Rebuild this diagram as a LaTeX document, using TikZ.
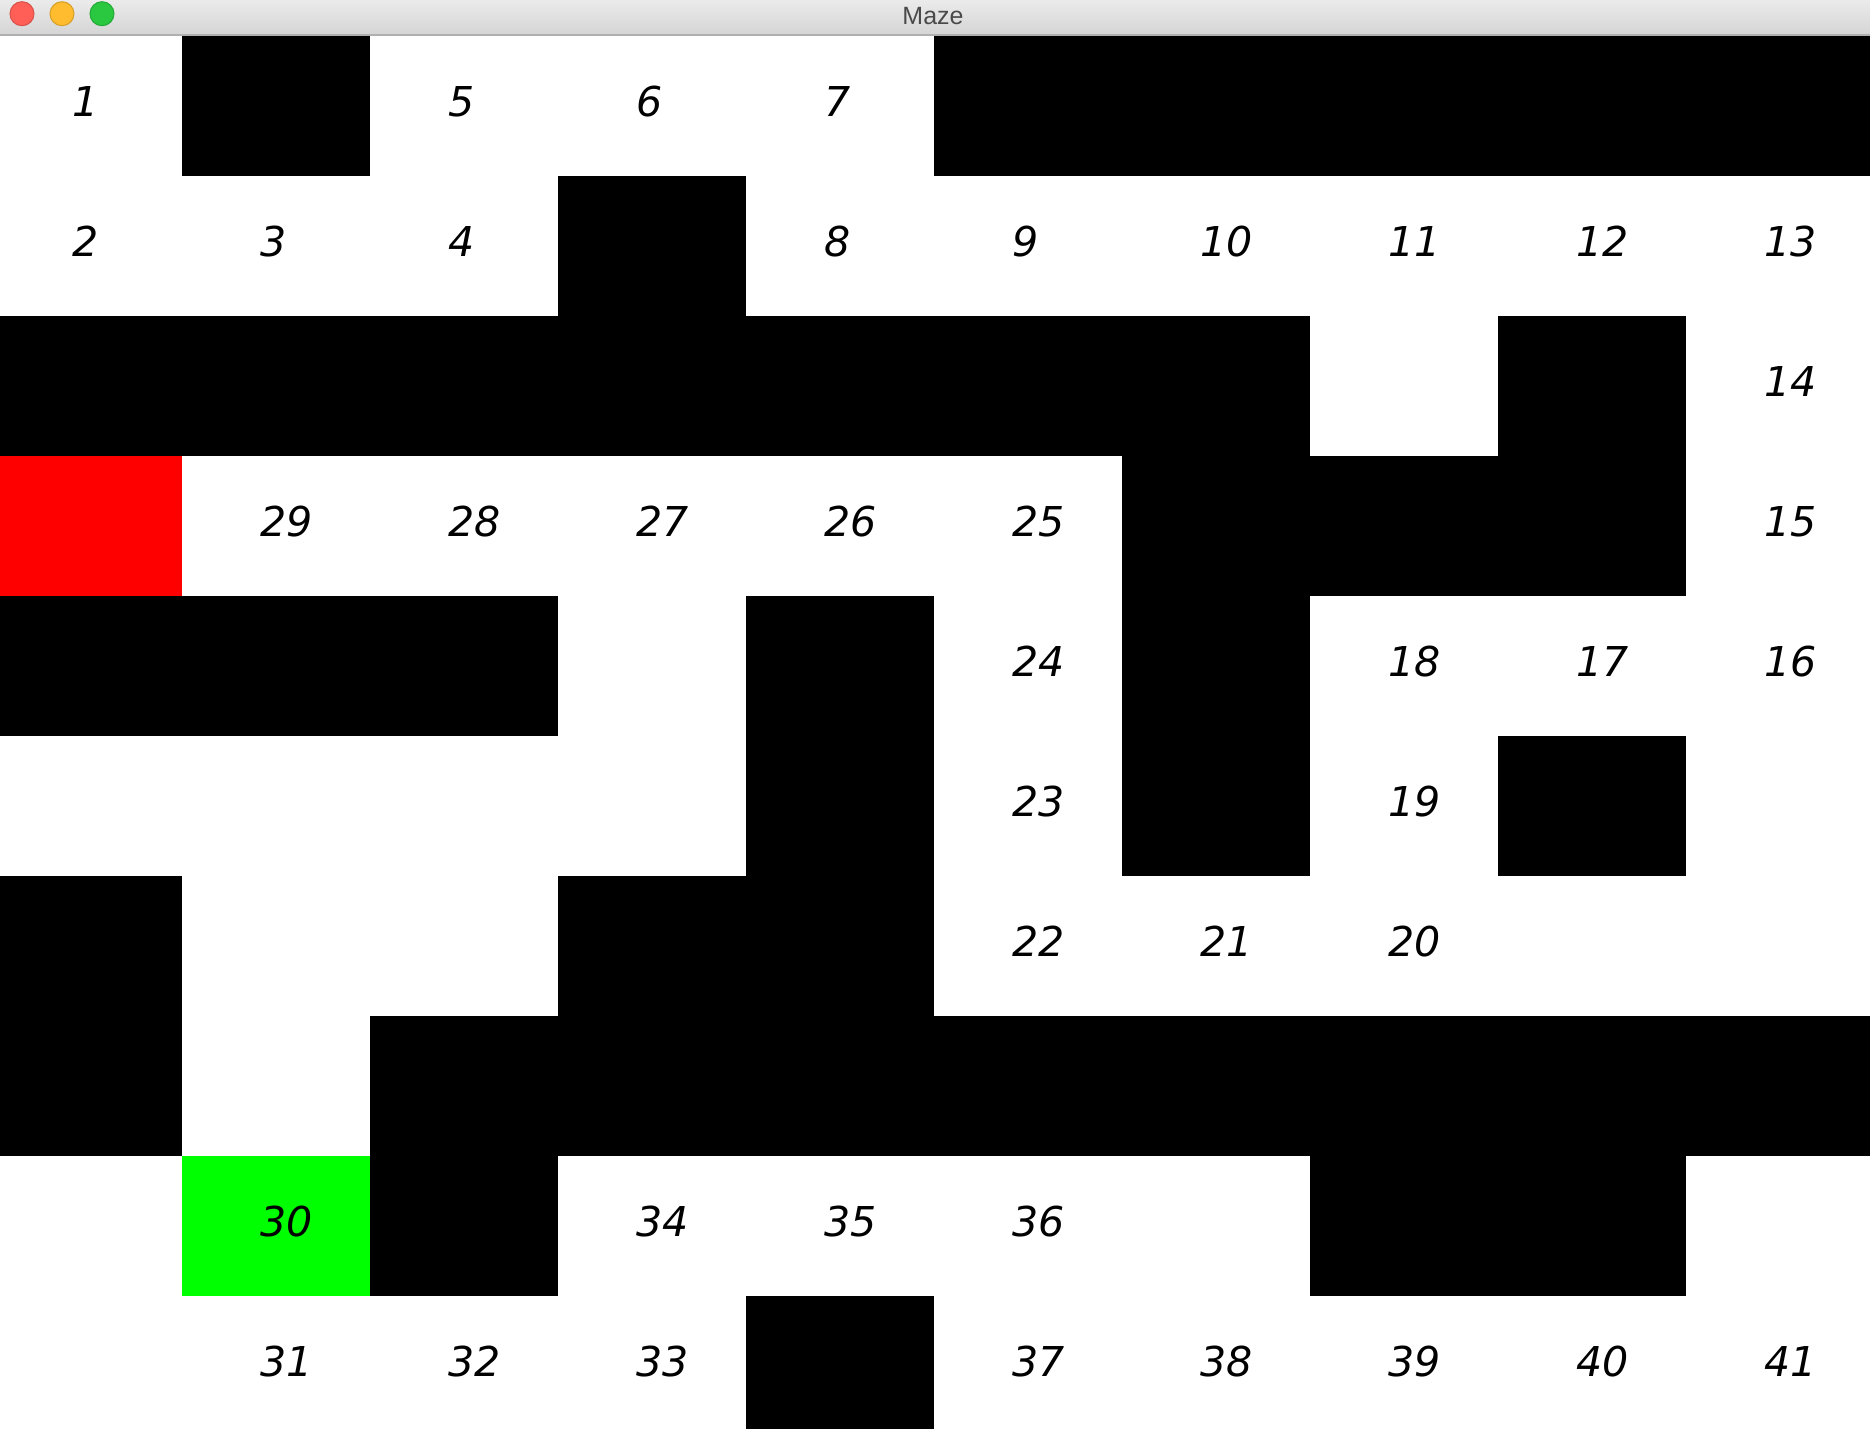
\documentclass[tikz,border=0pt]{standalone}
\usepackage{fontspec}
\newfontfamily\cellfont{DejaVu Sans}
\newfontfamily\barfont{Liberation Sans}
\definecolor{barTop}{HTML}{EBEBEB}
\definecolor{barBottom}{HTML}{D4D4D4}
\definecolor{barLine}{HTML}{B0B0B0}
\definecolor{titleGray}{HTML}{4A4A4A}
\definecolor{closeRed}{HTML}{FF5F57}
\definecolor{minYellow}{HTML}{FEBC2E}
\definecolor{zoomGreen}{HTML}{2AC840}
\definecolor{startRed}{HTML}{FF0000}
\definecolor{goalGreen}{HTML}{00FF00}
\tikzset{
  cell/.style={anchor=base west, inner sep=0pt, font=\cellfont\itshape\fontsize{11.7}{12}\selectfont},
  wall/.style={fill=black},
  light/.style={circle, minimum size=0.24cm, inner sep=0pt, line width=0.3pt}
}

\begin{document}
\begin{tikzpicture}
\useasboundingbox (0,0) rectangle (18.7,-14.28);
\fill[white] (0,0) rectangle (18.7,-14.28);
% window bar
\shade[top color=barTop, bottom color=barBottom] (0,0) rectangle (18.7,-0.355);
\draw[barLine, line width=0.4pt] (0,-0.35) -- (18.7,-0.35);
\node[light, fill=closeRed, draw=closeRed!85!black] (close) at (0.22,-0.137) {};
\node[light, fill=minYellow, draw=minYellow!85!black] (minimise) at (0.62,-0.137) {};
\node[light, fill=zoomGreen, draw=zoomGreen!85!black] (zoom) at (1.02,-0.137) {};
\node[anchor=base, inner sep=0pt, text=titleGray, font=\barfont\fontsize{7.1}{8}\selectfont] (title) at (9.33,-0.245) {Maze};

\begin{scope}[shift={(-0.06,-0.36)}, x=1.88cm, y=-1.4cm]
% walls
\fill[wall] (1,0) rectangle (2,1);
\fill[wall] (5,0) rectangle (10,1);
\fill[wall] (3,1) rectangle (4,2);
\fill[wall] (0,2) rectangle (7,3);
\fill[wall] (8,2) rectangle (9,4);
\fill[wall] (6,3) rectangle (8,4);
\fill[wall] (6,3) rectangle (7,6);
\fill[wall] (0,4) rectangle (3,5);
\fill[wall] (4,4) rectangle (5,8);
\fill[wall] (8,5) rectangle (9,6);
\fill[wall] (0,6) rectangle (1,8);
\fill[wall] (3,6) rectangle (4,7);
\fill[wall] (2,7) rectangle (10,8);
\fill[wall] (2,8) rectangle (3,9);
\fill[wall] (7,8) rectangle (9,9);
\fill[wall] (4,9) rectangle (5,10);
% start and goal
\fill[startRed] (0,3) rectangle (1,4);
\fill[goalGreen] (1,8) rectangle (2,9);

% cell numbers
\node[cell] (c1) at (0.413,0.575) {1};
\node[cell] (c5) at (2.413,0.575) {5};
\node[cell] (c6) at (3.413,0.575) {6};
\node[cell] (c7) at (4.413,0.575) {7};
\node[cell] (c2) at (0.413,1.575) {2};
\node[cell] (c3) at (1.413,1.575) {3};
\node[cell] (c4) at (2.413,1.575) {4};
\node[cell] (c8) at (4.413,1.575) {8};
\node[cell] (c9) at (5.413,1.575) {9};
\node[cell] (c10) at (6.413,1.575) {10};
\node[cell] (c11) at (7.413,1.575) {11};
\node[cell] (c12) at (8.413,1.575) {12};
\node[cell] (c13) at (9.413,1.575) {13};
\node[cell] (c14) at (9.413,2.575) {14};
\node[cell] (c29) at (1.413,3.575) {29};
\node[cell] (c28) at (2.413,3.575) {28};
\node[cell] (c27) at (3.413,3.575) {27};
\node[cell] (c26) at (4.413,3.575) {26};
\node[cell] (c25) at (5.413,3.575) {25};
\node[cell] (c15) at (9.413,3.575) {15};
\node[cell] (c24) at (5.413,4.575) {24};
\node[cell] (c18) at (7.413,4.575) {18};
\node[cell] (c17) at (8.413,4.575) {17};
\node[cell] (c16) at (9.413,4.575) {16};
\node[cell] (c23) at (5.413,5.575) {23};
\node[cell] (c19) at (7.413,5.575) {19};
\node[cell] (c22) at (5.413,6.575) {22};
\node[cell] (c21) at (6.413,6.575) {21};
\node[cell] (c20) at (7.413,6.575) {20};
\node[cell] (c30) at (1.413,8.575) {30};
\node[cell] (c34) at (3.413,8.575) {34};
\node[cell] (c35) at (4.413,8.575) {35};
\node[cell] (c36) at (5.413,8.575) {36};
\node[cell] (c31) at (1.413,9.575) {31};
\node[cell] (c32) at (2.413,9.575) {32};
\node[cell] (c33) at (3.413,9.575) {33};
\node[cell] (c37) at (5.413,9.575) {37};
\node[cell] (c38) at (6.413,9.575) {38};
\node[cell] (c39) at (7.413,9.575) {39};
\node[cell] (c40) at (8.413,9.575) {40};
\node[cell] (c41) at (9.413,9.575) {41};
\end{scope}
\end{tikzpicture}
\end{document}
